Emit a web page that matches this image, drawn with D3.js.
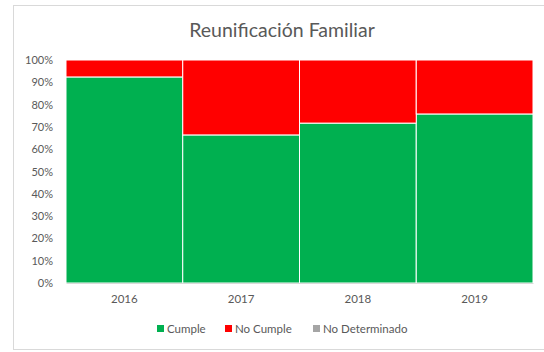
<!DOCTYPE html>
<html>
<head>
<meta charset="utf-8">
<script src="https://cdn.jsdelivr.net/npm/d3@7"></script>
<style>
  html, body { margin: 0; padding: 0; background: #fff; }
  svg { display: block; font-family: Lato, "Open Sans", "Liberation Sans", sans-serif; }
</style>
</head>
<body>
<svg id="chart" width="544" height="352"></svg>
<script>
// Data: share of cases per year, 100% stacked
const years = ["2016", "2017", "2018", "2019"];
const cumple = [0.924, 0.664, 0.717, 0.758];
const noCumple = [0.076, 0.336, 0.283, 0.242];
const noDeterminado = [0, 0, 0, 0];
const seriesNames = ["Cumple", "No Cumple", "No Determinado"];
const seriesColors = ["#00B050", "#FF0000", "#A5A5A5"];
const yTicks = [0, 0.1, 0.2, 0.3, 0.4, 0.5, 0.6, 0.7, 0.8, 0.9, 1.0];

const svg = d3.select("#chart");

// Chart frame
svg.append("rect").attr("x", 13.5).attr("y", 5.5).attr("width", 540).attr("height", 344)
  .attr("fill", "#fff").attr("stroke", "#D9D9D9").attr("stroke-width", 1);

const margin = { left: 66, right: 533, top: 60, bottom: 283 };

const x = d3.scaleBand().domain(years).range([margin.left, margin.right]).padding(0);
const y = d3.scaleLinear().domain([0, 1]).range([margin.bottom, margin.top]);

// Title
svg.append("text").attr("x", 282).attr("y", 37).attr("text-anchor", "middle")
  .attr("font-size", 19.5).attr("fill", "#595959").text("Reunificación Familiar");

// Gridlines
svg.append("g").selectAll("line").data(yTicks.slice(1)).join("line")
  .attr("x1", margin.left).attr("x2", margin.right)
  .attr("y1", d => Math.round(y(d)) + 0.5).attr("y2", d => Math.round(y(d)) + 0.5)
  .attr("stroke", "#D9D9D9").attr("stroke-width", 1);

// Stacked bars
const rows = years.map((yr, i) => ({ year: yr, "Cumple": cumple[i], "No Cumple": noCumple[i], "No Determinado": noDeterminado[i] }));
const stack = d3.stack().keys(seriesNames)(rows);

svg.append("g").selectAll("g").data(stack).join("g")
  .attr("fill", (d, i) => seriesColors[i])
  .selectAll("rect").data(d => d).join("rect")
  .attr("x", d => x(d.data.year))
  .attr("width", x.bandwidth())
  .attr("y", d => y(d[1]))
  .attr("height", d => y(d[0]) - y(d[1]))
  .attr("stroke", "#fff").attr("stroke-width", 1);

// Y axis
const yAxis = d3.axisLeft(y).tickValues(yTicks).tickFormat(d3.format(".0%")).tickSize(0).tickPadding(13);
const yg = svg.append("g").attr("transform", `translate(${margin.left},0)`).call(yAxis);
yg.select(".domain").remove();
yg.selectAll("text").attr("font-size", 11).attr("fill", "#595959").attr("font-family", "Lato, 'Open Sans', sans-serif");

// X axis
const xAxis = d3.axisBottom(x).tickSize(0).tickPadding(12);
const xg = svg.append("g").attr("transform", `translate(0,${margin.bottom})`).call(xAxis);
xg.select(".domain").attr("stroke", "#D9D9D9");
xg.selectAll("text").attr("font-size", 11.5).attr("fill", "#595959").attr("font-family", "Lato, 'Open Sans', sans-serif");

// Legend
const legendX = [157, 225, 313];
const lg = svg.append("g").selectAll("g").data(seriesNames).join("g")
  .attr("transform", (d, i) => `translate(${legendX[i]},325)`);
lg.append("rect").attr("width", 7).attr("height", 7).attr("fill", (d, i) => seriesColors[i]);
lg.append("text").attr("x", 10).attr("y", 8).attr("font-size", 11.5).attr("fill", "#595959").text(d => d);
</script>
</body>
</html>
